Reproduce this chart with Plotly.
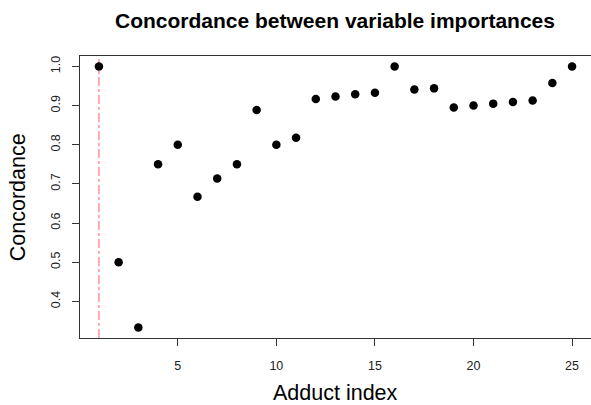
import plotly.graph_objects as go

adduct_index = list(range(1, 26))
concordance = [1.0, 0.5, 0.333, 0.75, 0.8, 0.667, 0.714, 0.75, 0.889, 0.8,
               0.818, 0.917, 0.923, 0.929, 0.933, 1.0, 0.941, 0.944, 0.895, 0.9,
               0.905, 0.909, 0.913, 0.958, 1.0]
x_ticks = [5, 10, 15, 20, 25]
y_ticks = [0.4, 0.5, 0.6, 0.7, 0.8, 0.9, 1.0]
y_tick_text = ["0.4", "0.5", "0.6", "0.7", "0.8", "0.9", "1.0"]
ref_index = 1

W, H = 591, 405
L, R, T, B = 80, 0, 55.5, 67
font = "Liberation Sans, Arial, Helvetica, sans-serif"

fig = go.Figure()
fig.add_shape(type="line", xref="x", yref="paper", x0=ref_index, x1=ref_index,
              y0=0, y1=1, line=dict(color="#FF7A7A", width=1.2, dash="dashdot"),
              layer="below")
fig.add_trace(go.Scatter(x=adduct_index, y=concordance, mode="markers",
                         marker=dict(color="black", size=8.5), showlegend=False))

xmin, xmax = min(adduct_index), max(adduct_index)
xr = (xmax - xmin) * 0.04
ymin, ymax = min(concordance), max(concordance)
yr = (ymax - ymin) * 0.04

axis_common = dict(showgrid=False, zeroline=False, showline=True, mirror=True,
                   linecolor="#333333", linewidth=1, ticks="outside", ticklen=7,
                   tickcolor="#333333", tickwidth=1,
                   tickfont=dict(family=font, size=12.5, color="#222222"))

fig.update_xaxes(range=[xmin - xr, xmax + xr], tickvals=x_ticks,
                 ticktext=[str(v) for v in x_ticks], ticklabelstandoff=9,
                 **axis_common)
fig.update_yaxes(range=[ymin - yr, ymax + yr], tickvals=y_ticks,
                 ticktext=y_tick_text, tickangle=-90, ticklabelstandoff=7,
                 **axis_common)

plot_h = H - T - B
plot_w = W - L - R
fig.update_layout(
    width=W, height=H,
    margin=dict(l=L, r=R, t=T, b=B, pad=0),
    paper_bgcolor="white", plot_bgcolor="white",
    title=dict(text="<b>Concordance between variable importances</b>",
               x=335 / W, xanchor="center", y=1 - 21 / H, yanchor="middle",
               font=dict(family=font, size=21, color="black")),
    annotations=[
        dict(text="Adduct index", xref="paper", yref="paper",
             x=(335 - L) / plot_w, y=-(393.5 - (H - B)) / plot_h,
             xanchor="center", yanchor="middle", showarrow=False,
             font=dict(family=font, size=21.5, color="black")),
        dict(text="Concordance", xref="paper", yref="paper",
             x=-(L - 18) / plot_w, y=1 - (197 - T) / plot_h, textangle=-90,
             xanchor="center", yanchor="middle", showarrow=False,
             font=dict(family=font, size=21.5, color="black")),
    ],
)

fig.write_html("out.html", config={"displayModeBar": False})
